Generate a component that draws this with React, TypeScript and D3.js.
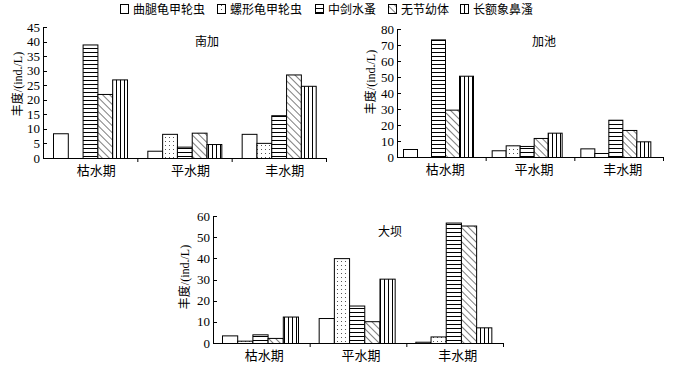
import React from "react";
import * as d3 from "d3";

const categories = ["枯水期", "平水期", "丰水期"];
const species = ["曲腿龟甲轮虫", "螺形龟甲轮虫", "中剑水蚤", "无节幼体", "长额象鼻溞"];

// values[category][species]
const nanjiaValues = [
  [8.5, 0, 39, 22, 27],
  [2.5, 8.3, 3.9, 8.7, 4.8],
  [8.3, 5.2, 14.7, 28.7, 24.8],
];
const jiachiValues = [
  [5, 0, 73.5, 29.6, 50.8],
  [4.2, 7.3, 6.9, 11.9, 15.2],
  [5.4, 2.5, 23.3, 16.9, 9.8],
];
const dabaValues = [
  [3.6, 1.1, 4.1, 2.4, 12.5],
  [11.8, 40.1, 17.7, 10.3, 30.4],
  [0.6, 3.1, 56.9, 55.5, 7.4],
];
const nanjiaTicks = [0, 5, 10, 15, 20, 25, 30, 35, 40, 45];
const jiachiTicks = [0, 10, 20, 30, 40, 50, 60, 70, 80];
const dabaTicks = [0, 10, 20, 30, 40, 50, 60];

const fills = ["#fff", "url(#pDots)", "url(#pHoriz)", "url(#pDiag)", "url(#pVert)"];
const FONT = "'Liberation Serif', 'Times New Roman', 'Noto Sans CJK SC', serif";

type PanelProps = {
  title: string;
  values: number[][];
  ticks: number[];
  x0: number;
  x1: number;
  yTop: number;
  y0: number;
  inner: [number, number];
  titleX: number;
  titleY: number;
  labelX: number;
  labelY: number;
  catOffset: number;
};

function Panel(p: PanelProps) {
  const max = p.ticks[p.ticks.length - 1];
  const y = d3.scaleLinear().domain([0, max]).range([p.y0, p.yTop]);
  const x = d3.scaleBand<string>().domain(categories).range([p.x0, p.x1]).padding(0);
  const xi = d3.scaleBand<string>().domain(species).range(p.inner).padding(0);
  const bounds = [p.x0, ...categories.map((c) => (x(c) as number) + x.bandwidth())];
  return (
    <g>
      {categories.map((c, ci) => (
        <g key={c}>
          {species.map((s, si) => {
            const v = p.values[ci][si];
            if (v <= 0) return null;
            const bx = (x(c) as number) + (xi(s) as number);
            return (
              <rect
                key={s}
                x={bx + 0.5}
                y={y(v) + 0.5}
                width={xi.bandwidth()}
                height={p.y0 - y(v)}
                fill={fills[si]}
                stroke="#000"
                strokeWidth={1}
              />
            );
          })}
          <text
            x={(x(c) as number) + x.bandwidth() / 2 + p.catOffset}
            y={p.y0 + 17}
            textAnchor="middle"
            fontSize={13}
            fontFamily={FONT}
          >
            {c}
          </text>
        </g>
      ))}
      {/* axes */}
      <line x1={p.x0 + 0.5} x2={p.x0 + 0.5} y1={p.yTop} y2={p.y0 + 0.5} stroke="#000" />
      <line x1={p.x0} x2={p.x1} y1={p.y0 + 0.5} y2={p.y0 + 0.5} stroke="#000" />
      {bounds.slice(1).map((b, i) => (
        <line key={i} x1={b + 0.5} x2={b + 0.5} y1={p.y0} y2={p.y0 + 4} stroke="#000" />
      ))}
      {p.ticks.map((t) => (
        <g key={t}>
          <line x1={p.x0} x2={p.x0 + 4} y1={Math.round(y(t)) + 0.5} y2={Math.round(y(t)) + 0.5} stroke="#000" />
          <text x={p.x0 - 3} y={y(t) + 4.5} textAnchor="end" fontSize={13} fontFamily={FONT}>
            {t}
          </text>
        </g>
      ))}
      <text x={p.titleX} y={p.titleY + 4} textAnchor="middle" fontSize={12} fontFamily={FONT}>
        {p.title}
      </text>
      <text
        transform={`translate(${p.labelX},${p.labelY}) rotate(-90)`}
        textAnchor="middle"
        fontSize={12}
        fontFamily={FONT}
        dy="0.35em"
      >
        丰度/(ind./L)
      </text>
    </g>
  );
}

const legendBoxX = [120, 217, 315, 388, 460];

export default function App() {
  return (
    <svg width={679} height={365} style={{ position: "absolute", left: 0, top: 0, background: "#fff" }}>
      <defs>
        <pattern id="pHoriz" patternUnits="userSpaceOnUse" width={4} height={4}>
          <rect width={4} height={4} fill="#fff" />
          <line x1={0} x2={4} y1={0.5} y2={0.5} stroke="#000" strokeWidth={1} />
        </pattern>
        <pattern id="pVert" patternUnits="userSpaceOnUse" width={4} height={4}>
          <rect width={4} height={4} fill="#fff" />
          <line x1={0.5} x2={0.5} y1={0} y2={4} stroke="#000" strokeWidth={1} />
        </pattern>
        <pattern id="pDiag" patternUnits="userSpaceOnUse" width={5} height={5} patternTransform="rotate(-45)">
          <rect width={5} height={5} fill="#fff" />
          <line x1={0} x2={0} y1={0} y2={5} stroke="#000" strokeWidth={1} />
        </pattern>
        <pattern id="pDots" patternUnits="userSpaceOnUse" width={4} height={4}>
          <rect width={4} height={4} fill="#fff" />
          <rect x={1} y={1} width={1} height={1} fill="#555" />
        </pattern>
      </defs>
      <rect width={679} height={365} fill="#fff" />
      {species.map((s, i) => (
        <g key={s}>
          <rect x={legendBoxX[i] + 0.5} y={4.5} width={8} height={9} fill={fills[i]} stroke="#000" />
          <text x={legendBoxX[i] + 13} y={14} fontSize={12} fontFamily={FONT}>
            {s}
          </text>
        </g>
      ))}
      <Panel
        title="南加"
        values={nanjiaValues}
        ticks={nanjiaTicks}
        x0={43}
        x1={326}
        yTop={27}
        y0={158}
        inner={[10, 84]}
        titleX={207}
        titleY={42}
        labelX={18}
        labelY={84}
        catOffset={6}
      />
      <Panel
        title="加池"
        values={jiachiValues}
        ticks={jiachiTicks}
        x0={397}
        x1={663}
        yTop={29}
        y0={157}
        inner={[6, 76]}
        titleX={544}
        titleY={42}
        labelX={371}
        labelY={82}
        catOffset={4}
      />
      <Panel
        title="大坝"
        values={dabaValues}
        ticks={dabaTicks}
        x0={213}
        x1={503}
        yTop={216}
        y0={343}
        inner={[9, 85]}
        titleX={390}
        titleY={232}
        labelX={185}
        labelY={277}
        catOffset={3}
      />
    </svg>
  );
}
